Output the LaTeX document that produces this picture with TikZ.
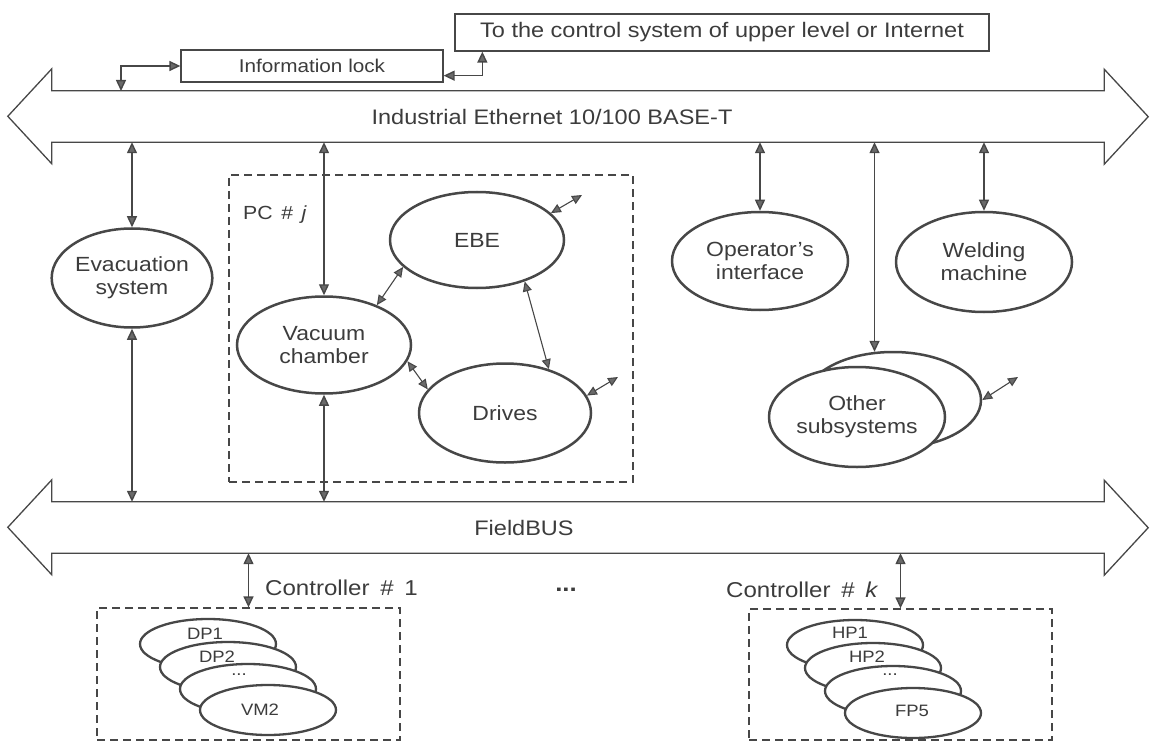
\documentclass[tikz,border=0pt]{standalone}
\usepackage{fontspec}
\setmainfont[FakeStretch=1.12]{Liberation Sans}
\usetikzlibrary{arrows.meta,shapes.geometric}
\definecolor{ink}{HTML}{474747}
\definecolor{txt}{HTML}{3C3C3C}
\definecolor{tipfill}{HTML}{6A6A6A}

\begin{document}
\begin{tikzpicture}[x=1pt,y=-1pt,
  font=\fontsize{20.5}{23}\selectfont, text=txt,
  bigtip/.tip={Triangle[length=11pt,width=10pt,fill=tipfill]},
  smalltip/.tip={Triangle[length=10pt,width=9pt,fill=tipfill]},
  bi/.style={draw=ink, line width=1.4pt, bigtip-bigtip},
  bis/.style={draw=ink, line width=1.1pt, smalltip-smalltip},
  bus/.style={draw=ink, line width=1.3pt, line join=miter},
  busframe/.style={minimum width=1052pt, minimum height=51pt, inner sep=0pt},
  plainbox/.style={draw=ink, line width=1.3pt, inner sep=0pt},
  dashbox/.style={draw=ink, line width=1.3pt, dash pattern=on 8pt off 5pt, inner sep=0pt},
  unit/.style={ellipse, draw=ink, line width=2.5pt, fill=white, inner sep=0pt, align=center},
  stk/.style={ellipse, draw=ink, line width=2.3pt, fill=white, inner sep=0pt,
              minimum width=136pt, minimum height=50pt},
  lbl/.style={inner sep=0pt},
  stklbl/.style={inner sep=0pt, font=\fontsize{16.5}{18}\selectfont},
]
\useasboundingbox (0,0) rectangle (1155,743);

% ---------- upper links ----------
\node[plainbox, minimum width=534pt, minimum height=37pt,
      font=\fontsize{21}{24}\selectfont] (top) at (722,32.5)
      {To the control system of upper level or Internet};
\node[plainbox, minimum width=262pt, minimum height=32pt,
      font=\fontsize{18.5}{21}\selectfont] (lock) at (312,66) {Information lock};

% ---------- Industrial Ethernet bus ----------
\node[busframe] (eth) at (578,116.5) {};
\draw[bus] (eth.north west) -- ++(0,-22) -- ++(-44,47.5) -- ++(44,47.5)
  -- (eth.south west) -- (eth.south east) -- ++(0,22) -- ++(44,-47.5)
  -- ++(-44,-47.5) -- (eth.north east) -- cycle;
\node[lbl, font=\fontsize{21}{24}\selectfont] (ethlbl) at (552,117)
  {Industrial Ethernet 10/100 BASE-T};

% ---------- FieldBUS ----------
\node[busframe] (fb) at (578,527.5) {};
\draw[bus] (fb.north west) -- ++(0,-22) -- ++(-44,47.5) -- ++(44,47.5)
  -- (fb.south west) -- (fb.south east) -- ++(0,22) -- ++(44,-47.5)
  -- ++(-44,-47.5) -- (fb.north east) -- cycle;
\node[lbl, font=\fontsize{21}{24}\selectfont] (fblbl) at (524,528) {FieldBUS};

% information lock connections
\coordinate (tap1) at (121,91);
\draw[bi] (lock.west) -| (tap1);
\draw[bi] ([yshift=7pt]lock.south east) -| ([xshift=28pt]top.south west);

% ---------- PC # j ----------
\node[dashbox, minimum width=404pt, minimum height=307pt] (pc) at (431,328.5) {};
\node[lbl, anchor=west, font=\fontsize{19}{22}\selectfont] (pclbl) at (243,215)
  {PC\hspace{0.45em}\#\hspace{0.45em}\textit{j}};

\node[unit, minimum width=174pt, minimum height=96pt] (ebe) at (477,240) {EBE};
\node[unit, minimum width=174pt, minimum height=97pt] (vac) at (324,345) {Vacuum\\chamber};
\node[unit, minimum width=172pt, minimum height=99pt] (drv) at (505,413) {Drives};

\coordinate (ebeX) at (582,195);
\coordinate (drvX) at (618,377);
\draw[bis] (vac.37) -- (ebe.200);
\draw[bis] (ebe.319) -- (drv.45);
\draw[bis] (vac.349) -- (drv.163);
\draw[bis] (ebe.20) -- (ebeX);
\draw[bis] (drv.12) -- (drvX);

% ---------- other units ----------
\node[unit, minimum width=158pt, minimum height=99pt] (evac) at (132,278) {Evacuation\\system};
\node[unit, minimum width=176pt, minimum height=98pt] (opi) at (760,261) {Operator's\\interface};
\node[unit, minimum width=176pt, minimum height=100pt] (weld) at (984,262) {Welding\\machine};
\node[unit, minimum width=176pt, minimum height=96pt] (oth2) at (893,400) {};
\node[unit, minimum width=176pt, minimum height=100pt] (oth) at (857,417) {Other\\subsystems};
\coordinate (othX) at (1018,377);
\draw[bis] (oth2.east) -- (othX);

\draw[bi] (eth.south -| evac.north) -- (evac.north);
\draw[bi] (evac.south) -- (evac.south |- fb.north);
\draw[bi] (eth.south -| vac.north) -- (vac.north);
\draw[bi] (vac.south) -- (vac.south |- fb.north);
\draw[bi] (eth.south -| opi.north) -- (opi.north);
\draw[bi] (eth.south -| weld.north) -- (weld.north);
\draw[bi] (eth.south -| oth2.111) -- (oth2.111);

% ---------- controllers ----------
\node[dashbox, minimum width=303pt, minimum height=132pt] (ctl1) at (248.5,674) {};
\node[dashbox, minimum width=303pt, minimum height=131pt] (ctlk) at (900.5,674.5) {};
\draw[bi] (fb.south -| ctl1.north) -- (ctl1.north);
\draw[bi] (fb.south -| ctlk.north) -- (ctlk.north);
\node[lbl, anchor=west, font=\fontsize{21.5}{24}\selectfont] (c1lbl) at (265,588)
  {Controller\hspace{0.5em}\#\hspace{0.5em}1};
\node[lbl, anchor=west, font=\fontsize{21.5}{24}\selectfont] (cklbl) at (726,590)
  {Controller\hspace{0.5em}\#\hspace{0.5em}\textit{k}};
\node[lbl, font=\fontsize{23}{26}\selectfont] (gap) at (566,590) {\textbf{...}};

\node[stk] (dp1) at (208,644) {};
\node[stk] (dp2) at (228,667) {};
\node[stk] (dp3) at (248,689) {};
\node[stk] (vm2) at (268,710) {};
\node[stklbl] (dp1t) at (205,634) {DP1};
\node[stklbl] (dp2t) at (217,657) {DP2};
\node[stklbl] (dp3t) at (239,675) {...};
\node[stklbl] (vm2t) at (260,710) {VM2};

\node[stk] (hp1) at (855,645) {};
\node[stk] (hp2) at (873,668) {};
\node[stk] (hp3) at (893,691) {};
\node[stk] (fp5) at (913,713) {};
\node[stklbl] (hp1t) at (850,633) {HP1};
\node[stklbl] (hp2t) at (867,657) {HP2};
\node[stklbl] (hp3t) at (890,675) {...};
\node[stklbl] (fp5t) at (912,711) {FP5};
\end{tikzpicture}
\end{document}
